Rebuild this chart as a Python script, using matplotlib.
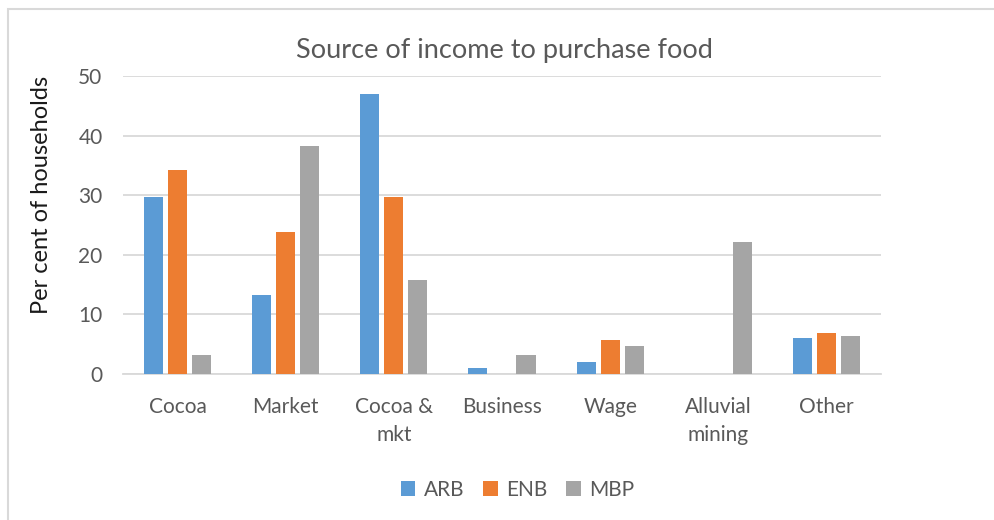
import numpy as np
import matplotlib.pyplot as plt
from matplotlib.patches import Rectangle

plt.rcParams['font.family'] = ['Lato', 'DejaVu Sans']

categories = ['Cocoa', 'Market', 'Cocoa &\nmkt', 'Business', 'Wage', 'Alluvial\nmining', 'Other']
arb = [29.6, 13.2, 47.0, 1.0, 2.0, 0.0, 6.1]
enb = [34.2, 23.8, 29.6, 0.0, 5.7, 0.0, 6.8]
mbp = [3.1, 38.2, 15.8, 3.1, 4.7, 22.2, 6.3]
series = [('ARB', arb, '#5b9bd5'), ('ENB', enb, '#ed7d31'), ('MBP', mbp, '#a5a5a5')]

text_col = '#595959'
grid_col = '#d9d9d9'

fig = plt.figure(figsize=(9.95, 5.2), dpi=100)
ax = fig.add_axes([0.124, 0.281, 0.761, 0.573])

x = np.arange(len(categories))
width = 0.176
step = 0.222
for i, (name, vals, col) in enumerate(series):
    ax.bar(x + (i - 1) * step, vals, width, color=col, label=name, zorder=3)

ax.set_xlim(-0.5, len(categories) - 0.5)
ax.set_ylim(0, 50)
ax.set_yticks(range(0, 51, 10))
ax.set_xticks(x)
ax.set_xticklabels(categories, color=text_col, fontsize=15, linespacing=1.45, va='top')
ax.tick_params(axis='y', labelcolor=text_col, labelsize=15, length=0, pad=15)
ax.tick_params(axis='x', length=0, pad=17)
ax.grid(axis='y', color=grid_col, linewidth=1.3, zorder=0)
for s in ['top', 'right', 'left']:
    ax.spines[s].set_visible(False)
ax.spines['bottom'].set_color(grid_col)
ax.spines['bottom'].set_linewidth(1.3)

ax.set_ylabel('Per cent of households', color='#1a1a1a', fontsize=17)
ax.yaxis.set_label_coords(-0.094, 0.60)
fig.text(0.507, 0.902, 'Source of income to purchase food', ha='center', va='center',
         fontsize=19.5, color=text_col)

leg = fig.legend(loc='center', bbox_to_anchor=(0.52, 0.058), ncol=3, frameon=False,
                 fontsize=15, handlelength=0.7, handleheight=0.7, handletextpad=0.4,
                 columnspacing=0.9, labelcolor=text_col)

# light frame round the whole chart
fig.patches.append(Rectangle((0.008, -0.1), 1.1, 1.083, transform=fig.transFigure,
                             fill=False, edgecolor='#d9d9d9', linewidth=1.5))

fig.savefig('out.png', dpi=100, facecolor='white')
